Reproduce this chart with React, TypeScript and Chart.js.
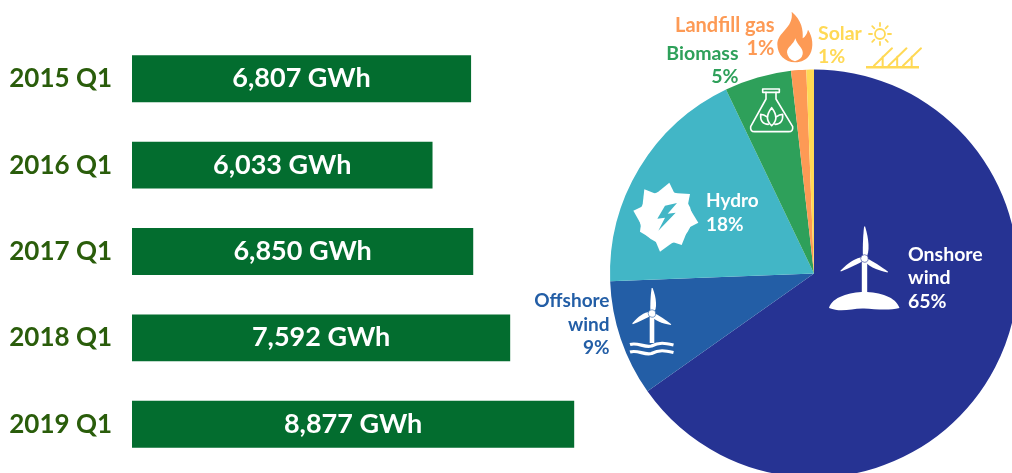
import React, { useEffect, useRef } from "react";
import Chart from "chart.js/auto";

const quarters = ["2015 Q1", "2016 Q1", "2017 Q1", "2018 Q1", "2019 Q1"];
const generation = [6807, 6033, 6850, 7592, 8877];
const unitLabel = "GWh";

const sources = ["Onshore wind", "Offshore wind", "Hydro", "Biomass", "Landfill gas", "Solar"];
const shares = [65.2, 9.2, 18.5, 5.3, 1.2, 0.6];
const shareLabels = ["65%", "9%", "18%", "5%", "1%", "1%"];
const sourceColors = ["#263393", "#235EA6", "#42B6C6", "#2EA05A", "#FD9A55", "#FFD955"];
const barColor = "#036D2F";
const tickColor = "#2A5D0B";
const FONT = "Lato, sans-serif";

type Ctx = CanvasRenderingContext2D;

function blade(ctx: Ctx, hx: number, hy: number, deg: number, len: number, w: number) {
  ctx.save();
  ctx.translate(hx, hy);
  ctx.rotate((deg * Math.PI) / 180);
  ctx.beginPath();
  ctx.moveTo(0, 1.5);
  ctx.bezierCurveTo(len * 0.2, w * 1.1, len * 0.6, w * 0.9, len, 0.6);
  ctx.lineTo(len, -0.4);
  ctx.bezierCurveTo(len * 0.7, -w * 0.3, len * 0.3, -w * 0.4, 0, -1.5);
  ctx.closePath();
  ctx.fill();
  ctx.restore();
}

function turbine(ctx: Ctx, hx: number, hy: number, up: number, side: number, towerEnd: number, tw: number, bg: string) {
  ctx.fillStyle = "#fff";
  ctx.fillRect(hx - tw / 2, hy, tw, towerEnd - hy);
  blade(ctx, hx, hy, -90, up, 5);
  blade(ctx, hx, hy, 152, side, 4.6);
  blade(ctx, hx, hy, 30, side, 4.6);
  ctx.beginPath();
  ctx.arc(hx, hy, 3.8, 0, Math.PI * 2);
  ctx.fillStyle = "#fff";
  ctx.fill();
  ctx.strokeStyle = bg;
  ctx.lineWidth = 0.6;
  ctx.stroke();
}

function drawIcons(ctx: Ctx) {
  const [on, off, hydro, , gas, sun] = sourceColors;
  ctx.save();
  ctx.lineCap = "round";
  ctx.lineJoin = "round";

  // Onshore turbine and hill
  turbine(ctx, 864.5, 258.5, 32, 27, 294, 5.4, on);
  ctx.fillStyle = "#fff";
  ctx.beginPath();
  ctx.moveTo(829, 308);
  ctx.bezierCurveTo(832, 297, 850, 292, 864, 292);
  ctx.bezierCurveTo(880, 292, 896, 297, 899.5, 308);
  ctx.bezierCurveTo(888, 311, 875, 309, 864, 308.5);
  ctx.bezierCurveTo(852, 308, 842, 313, 829, 308);
  ctx.fill();

  // Offshore turbine and waves
  turbine(ctx, 652, 313.5, 25.5, 22, 343, 4.6, off);
  ctx.strokeStyle = "#fff";
  ctx.lineWidth = 3.2;
  ctx.lineCap = "butt";
  for (const y of [345, 352.5]) {
    ctx.beginPath();
    ctx.moveTo(630, y - 0.5);
    ctx.bezierCurveTo(638, y - 3, 644, y + 3, 651.5, y + 1);
    ctx.bezierCurveTo(659, y - 3, 665, y - 2, 673.5, y);
    ctx.stroke();
  }
  ctx.lineCap = "round";

  // Hydro wheel: round body with swept teeth, traced in 3x crop coordinates
  const hz = (x: number, y: number): [number, number] => [625 + x / 3, 170 + y / 3];
  const hubX = 122;
  const hubY = 142;
  const hubR = 79;
  const teeth: [number, number][] = [[58, 58], [133, 38], [195, 72], [220, 158], [170, 225], [105, 245], [45, 185], [25, 122]];
  ctx.fillStyle = "#fff";
  ctx.beginPath();
  const [cx, cy] = hz(hubX, hubY);
  ctx.arc(cx, cy, hubR / 3, 0, Math.PI * 2);
  ctx.fill();
  for (const [tx, ty] of teeth) {
    const a = Math.atan2(ty - hubY, tx - hubX);
    ctx.beginPath();
    const p0 = hz(tx, ty);
    const p1 = hz(hubX + Math.cos(a - 0.5) * hubR * 0.97, hubY + Math.sin(a - 0.5) * hubR * 0.97);
    const p2 = hz(hubX + Math.cos(a + 0.25) * hubR * 0.97, hubY + Math.sin(a + 0.25) * hubR * 0.97);
    ctx.moveTo(p1[0], p1[1]);
    ctx.lineTo(p0[0], p0[1]);
    ctx.lineTo(p2[0], p2[1]);
    ctx.closePath();
    ctx.fill();
  }
  const bolt: [number, number][] = [[156, 99], [120, 107], [97, 146], [120, 143], [100, 182], [152, 128], [128, 131]];
  ctx.fillStyle = hydro;
  ctx.beginPath();
  bolt.forEach((p, i) => {
    const [x, y] = hz(p[0], p[1]);
    if (i === 0) ctx.moveTo(x, y);
    else ctx.lineTo(x, y);
  });
  ctx.closePath();
  ctx.fill();

  // Flask, flame, sun and panels, traced in 3x crop coordinates
  const X = (x: number) => 740 + x / 3;
  const Y = (y: number) => 5 + y / 3;
  ctx.strokeStyle = "#fff";
  ctx.lineWidth = 1.6;
  ctx.strokeRect(X(68), Y(252), 50 / 3, 10 / 3);
  ctx.beginPath();
  ctx.moveTo(X(78), Y(262));
  ctx.lineTo(X(78), Y(282));
  ctx.lineTo(X(32), Y(365));
  ctx.quadraticCurveTo(X(30), Y(380), X(44), Y(380));
  ctx.lineTo(X(146), Y(380));
  ctx.quadraticCurveTo(X(160), Y(380), X(158), Y(365));
  ctx.lineTo(X(108), Y(282));
  ctx.lineTo(X(108), Y(262));
  ctx.stroke();
  ctx.beginPath();
  ctx.moveTo(X(95), Y(362));
  ctx.quadraticCurveTo(X(70), Y(340), X(95), Y(308));
  ctx.quadraticCurveTo(X(120), Y(340), X(95), Y(362));
  ctx.moveTo(X(85), Y(358));
  ctx.quadraticCurveTo(X(60), Y(358), X(62), Y(328));
  ctx.quadraticCurveTo(X(72), Y(328), X(80), Y(335));
  ctx.moveTo(X(105), Y(358));
  ctx.quadraticCurveTo(X(130), Y(358), X(128), Y(328));
  ctx.quadraticCurveTo(X(118), Y(328), X(110), Y(335));
  ctx.stroke();

  ctx.fillStyle = gas;
  ctx.beginPath();
  ctx.moveTo(X(155), Y(20));
  ctx.bezierCurveTo(X(185), Y(45), X(190), Y(75), X(188), Y(100));
  ctx.quadraticCurveTo(X(200), Y(92), X(204), Y(74));
  ctx.bezierCurveTo(X(218), Y(95), X(222), Y(125), X(210), Y(148));
  ctx.bezierCurveTo(X(200), Y(165), X(185), Y(172), X(165), Y(172));
  ctx.bezierCurveTo(X(135), Y(172), X(112), Y(150), X(112), Y(118));
  ctx.bezierCurveTo(X(112), Y(80), X(162), Y(70), X(155), Y(20));
  ctx.closePath();
  ctx.fill();
  ctx.fillStyle = "#fff";
  ctx.beginPath();
  ctx.moveTo(X(166), Y(100));
  ctx.bezierCurveTo(X(172), Y(122), X(192), Y(130), X(188), Y(148));
  ctx.quadraticCurveTo(X(185), Y(163), X(165), Y(169));
  ctx.quadraticCurveTo(X(143), Y(163), X(141), Y(142));
  ctx.bezierCurveTo(X(142), Y(125), X(160), Y(120), X(166), Y(100));
  ctx.closePath();
  ctx.fill();

  ctx.strokeStyle = sun;
  ctx.lineWidth = 1.8;
  const sx = X(420);
  const sy = Y(87);
  ctx.beginPath();
  ctx.arc(sx, sy, 5, 0, Math.PI * 2);
  ctx.stroke();
  ctx.beginPath();
  for (let i = 0; i < 8; i++) {
    const a = (i * Math.PI) / 4;
    ctx.moveTo(sx + Math.cos(a) * 8, sy + Math.sin(a) * 8);
    ctx.lineTo(sx + Math.cos(a) * 11, sy + Math.sin(a) * 11);
  }
  ctx.stroke();
  ctx.lineWidth = 2.4;
  ctx.lineCap = "butt";
  ctx.beginPath();
  ctx.moveTo(866, 67.3);
  ctx.lineTo(919, 67.3);
  ctx.stroke();
  ctx.lineCap = "round";
  ctx.lineWidth = 2;
  ctx.beginPath();
  for (const dx of [0, 14.5, 29]) {
    ctx.moveTo(X(402) + dx, Y(182));
    ctx.lineTo(X(456) + dx, Y(130));
    ctx.moveTo(X(428) + dx, Y(155));
    ctx.lineTo(X(428) + dx, Y(186));
  }
  ctx.stroke();
  ctx.restore();
}

const sliceText: { i: number; lines: string[]; x: number; ys: number[]; align: CanvasTextAlign; size: number; color?: string }[] = [
  { i: 0, lines: ["Onshore", "wind"], x: 908, ys: [261, 284, 308], align: "left", size: 19.5, color: "#fff" },
  { i: 1, lines: ["Offshore", "wind"], x: 609.5, ys: [307, 331, 354], align: "right", size: 19 },
  { i: 2, lines: ["Hydro"], x: 706, ys: [207, 231], align: "left", size: 19, color: "#fff" },
  { i: 3, lines: ["Biomass"], x: 738.5, ys: [60, 83], align: "right", size: 19.5 },
  { i: 4, lines: ["Landfill gas"], x: 774.5, ys: [32, 55], align: "right", size: 20 },
  { i: 5, lines: ["Solar"], x: 818, ys: [40, 63], align: "left", size: 19.5 },
];

const pieDecor = {
  id: "pieDecor",
  afterDraw(chart: any) {
    const ctx: Ctx = chart.ctx;
    drawIcons(ctx);
    ctx.save();
    ctx.textBaseline = "alphabetic";
    for (const t of sliceText) {
      ctx.font = `700 ${t.size}px ${FONT}`;
      ctx.fillStyle = t.color ?? sourceColors[t.i];
      ctx.textAlign = t.align;
      [...t.lines, shareLabels[t.i]].forEach((s, k) => ctx.fillText(s, t.x, t.ys[k]));
    }
    ctx.restore();
  },
};

const barValues = {
  id: "barValues",
  afterDatasetsDraw(chart: any) {
    const ctx: Ctx = chart.ctx;
    ctx.save();
    ctx.font = `700 27px ${FONT}`;
    ctx.fillStyle = "#fff";
    ctx.textAlign = "center";
    ctx.textBaseline = "alphabetic";
    chart.getDatasetMeta(0).data.forEach((el: any, i: number) => {
      ctx.fillText(`${generation[i].toLocaleString("en-US")} ${unitLabel}`, (el.x + el.base) / 2, el.y + 8.5);
    });
    ctx.restore();
  },
};

export default function App() {
  const barRef = useRef<HTMLCanvasElement>(null);
  const pieRef = useRef<HTMLCanvasElement>(null);

  useEffect(() => {
    const bar = new Chart(barRef.current!, {
      type: "bar",
      data: {
        labels: quarters,
        datasets: [{ data: generation, backgroundColor: barColor, borderWidth: 0, categoryPercentage: 1, barPercentage: 47 / 86.5 }],
      },
      options: {
        indexAxis: "y",
        responsive: false,
        animation: false,
        layout: { padding: { top: 34.75, bottom: 6.6, left: 0, right: 0 } },
        plugins: { legend: { display: false }, tooltip: { enabled: false } },
        scales: {
          x: { display: false, min: 0, max: 9395 },
          y: {
            afterFit(s: any) {
              s.width = 132;
            },
            grid: { display: false, drawTicks: false },
            border: { display: false },
            ticks: { color: tickColor, font: { family: FONT, size: 26, weight: "bold" }, padding: 20 },
          },
        },
      },
      plugins: [barValues],
    } as any);

    const pie = new Chart(pieRef.current!, {
      type: "pie",
      data: {
        labels: sources,
        datasets: [{ data: shares, backgroundColor: sourceColors, borderWidth: 0 }],
      },
      options: {
        responsive: false,
        animation: false,
        layout: { padding: { left: 610, right: 12, top: 69.5, bottom: 12.5 } },
        plugins: { legend: { display: false }, tooltip: { enabled: false } },
      },
      plugins: [pieDecor],
    } as any);

    return () => {
      bar.destroy();
      pie.destroy();
    };
  }, []);

  return (
    <div style={{ position: "fixed", left: 0, top: 0, width: 1012, height: 473, overflow: "hidden", background: "#fff" }}>
      <canvas ref={barRef} width={600} height={503.5} style={{ position: "absolute", left: 0, top: 0 }} />
      <canvas ref={pieRef} width={1030} height={490} style={{ position: "absolute", left: 0, top: 0 }} />
    </div>
  );
}
